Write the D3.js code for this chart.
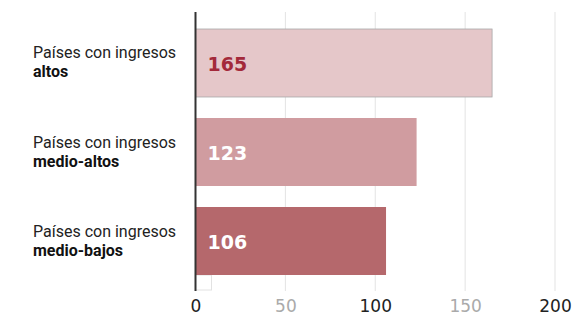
<!DOCTYPE html>
<html><head><meta charset="utf-8">
<script src="https://cdn.jsdelivr.net/npm/d3@7"></script>
<style>body{margin:0;background:#fff}</style>
</head><body>
<svg id="c" width="572" height="315"></svg>
<script>
const categoriesLine1 = ["Países con ingresos", "Países con ingresos", "Países con ingresos"];
const categoriesLine2 = ["altos", "medio-altos", "medio-bajos"];
const values = [165, 123, 106];
const barColors = ["#e5c7c9", "#d09ca0", "#b5686c"];
const labelColors = ["#a3293a", "#ffffff", "#ffffff"];
const tickValues = [0, 50, 100, 150, 200];
const tickColors = ["#222", "#aaa", "#222", "#aaa", "#222"];

const svg = d3.select("#c");
const x = d3.scaleLinear().domain([0, 200]).range([195.5, 555]);
const y = d3.scaleBand().domain(d3.range(values.length)).range([29, 275]).paddingInner(0.236).paddingOuter(0);

// gridlines
svg.append("g").selectAll("line").data(tickValues.slice(1)).join("line")
  .attr("x1", d => x(d)).attr("x2", d => x(d))
  .attr("y1", 12).attr("y2", 291)
  .attr("stroke", "#e3e3e3").attr("stroke-width", 1);

// small empty box at bottom
svg.append("rect").attr("x", x(0)).attr("y", 275).attr("width", 16).attr("height", 15)
  .attr("fill", "#fff").attr("stroke", "#e2e2e2");

// bars
svg.append("g").selectAll("rect").data(values).join("rect")
  .attr("x", x(0)).attr("y", (d, i) => y(i))
  .attr("width", d => x(d) - x(0)).attr("height", y.bandwidth())
  .attr("fill", (d, i) => barColors[i])
  .attr("stroke", (d, i) => i === 0 ? "#a9a9a9" : "none")
  .attr("stroke-width", 0.8);

// axis line
svg.append("line").attr("x1", x(0)).attr("x2", x(0)).attr("y1", 12).attr("y2", 291)
  .attr("stroke", "#333").attr("stroke-width", 2);

// value labels
svg.append("g").selectAll("text").data(values).join("text")
  .attr("x", x(0) + 12).attr("y", (d, i) => y(i) + y.bandwidth() / 2 + 8)
  .attr("fill", (d, i) => labelColors[i])
  .attr("font-family", "DejaVu Sans").attr("font-weight", "bold").attr("font-size", 19)
  .text(d => d);

// category labels
svg.append("g").selectAll("text").data(values).join("text")
  .attr("font-family", "Roboto").attr("font-size", 16).attr("fill", "#222")
  .attr("x", 33).attr("y", (d, i) => y(i) + y.bandwidth() / 2 - 4.5)
  .text((d, i) => categoriesLine1[i]);
svg.append("g").selectAll("text").data(values).join("text")
  .attr("font-family", "Roboto").attr("font-size", 16).attr("fill", "#111")
  .attr("font-weight", "bold")
  .attr("x", 33).attr("y", (d, i) => y(i) + y.bandwidth() / 2 + 14.5)
  .text((d, i) => categoriesLine2[i]);

// tick labels
const axis = d3.axisBottom(x).tickValues(tickValues).tickSize(0).tickPadding(0);
const ag = svg.append("g").attr("transform", "translate(0,298)").call(axis);
ag.select(".domain").remove();
ag.selectAll("text").attr("font-family", "DejaVu Sans").attr("font-size", 17)
  .attr("dy", "0.85em")
  .attr("fill", (d, i) => tickColors[i]);
</script>
</body></html>
